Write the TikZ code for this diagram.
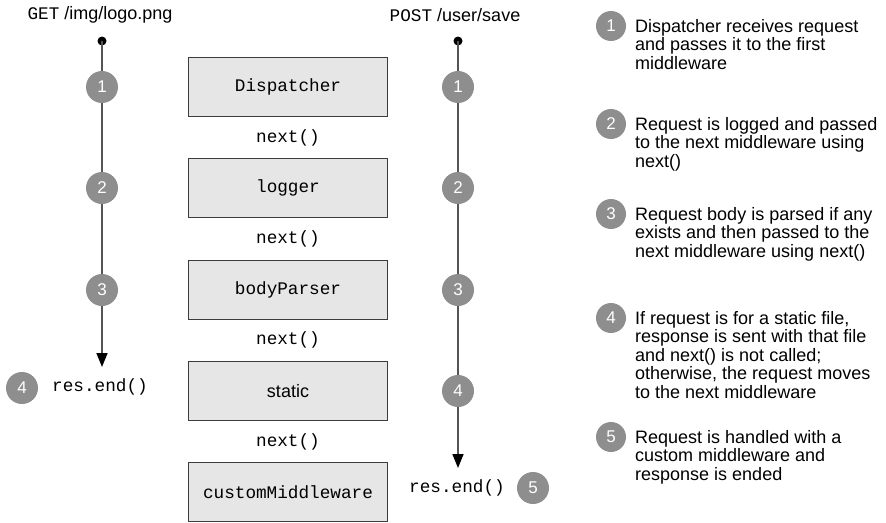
\documentclass[tikz,border=0pt]{standalone}
\usepackage{fontspec}
\setmainfont{Liberation Sans}
\setmonofont{Liberation Mono}
\usetikzlibrary{arrows.meta}
\definecolor{stepgray}{RGB}{142,142,142}
\definecolor{boxfill}{RGB}{230,230,230}
\definecolor{boxline}{RGB}{60,60,60}
\definecolor{flowline}{RGB}{85,85,85}
\begin{document}
\begin{tikzpicture}[x=1pt,y=-1pt,
  mw/.style={draw=boxline, line width=1.3pt, fill=boxfill, minimum width=199pt, minimum height=59pt, inner sep=0pt, font=\fontsize{17.7}{20}\ttfamily},
  mono/.style={font=\fontsize{17.7}{20}\ttfamily, inner sep=0pt},
  num/.style={circle, fill=stepgray, minimum size=32pt, inner sep=0pt, text=white, font=\fontsize{17}{20}\selectfont},
  lnum/.style={num, minimum size=30pt},
  dotstart/.style={circle, fill=black, minimum size=9pt, inner sep=0pt},
  flow/.style={draw=flowline, line width=1.6pt, -{Triangle[width=11pt,length=14pt,color=black,fill=black]}},
  legend/.style={align=left, anchor=north west, inner sep=0pt, font=\fontsize{18}{18.5}\selectfont},
  title/.style={inner sep=0pt, font=\fontsize{18}{20}\selectfont}
]
\useasboundingbox (0,0) rectangle (886,522);

% middleware boxes
\node[mw] (disp) at (288,87) {Dispatcher};
\node[mw] (logger) at (288,188) {logger};
\node[mw] (body) at (288,290) {bodyParser};
\node[mw, font=\fontsize{18}{20}\selectfont] (static) at (288,391) {static};
\node[mw] (custom) at (288,492) {customMiddleware};
\node[mono] (n1) at (288,138) {next()};
\node[mono] (n2) at (288,239) {next()};
\node[mono] (n3) at (288,340) {next()};
\node[mono] (n4) at (288,442) {next()};

% left request
\node[title] (getlbl) at (100,15) {{\fontsize{17.7}{20}\ttfamily GET} /img/logo.png};
\node[dotstart] (dotL) at (102,41) {};
\coordinate (endL) at (102,367);
\draw[flow] (dotL.center) -- (endL);
\node[num] (l1) at (102,87) {1};
\node[num] (l2) at (102,188) {2};
\node[num] (l3) at (102,290) {3};
\node[num] (l4) at (22,388) {4};
\node[mono, anchor=west] (resL) at (52,387) {res.end()};

% right request
\node[title] (postlbl) at (455,15) {{\fontsize{17.7}{20}\ttfamily POST} /user/save};
\node[dotstart] (dotR) at (458,41) {};
\coordinate (endR) at (458,468);
\draw[flow] (dotR.center) -- (endR);
\node[num] (r1) at (458,87) {1};
\node[num] (r2) at (458,188) {2};
\node[num] (r3) at (458,290) {3};
\node[num] (r4) at (458,391) {4};
\node[mono, anchor=west] (resR) at (409,488) {res.end()};
\node[num] (r5) at (533,488) {5};

% legend
\node[lnum] (k1) at (611,26) {1};
\node[legend] (t1) at (635,19) {Dispatcher receives request\\and passes it to the first\\middleware};
\node[lnum] (k2) at (611,124) {2};
\node[legend] (t2) at (635,117) {Request is logged and passed\\to the next middleware using\\next()};
\node[lnum] (k3) at (611,214) {3};
\node[legend] (t3) at (635,207) {Request body is parsed if any\\exists and then passed to the\\next middleware using next()};
\node[lnum] (k4) at (611,318) {4};
\node[legend] (t4) at (635,311) {If request is for a static file,\\response is sent with that file\\and next() is not called;\\otherwise, the request moves\\to the next middleware};
\node[lnum] (k5) at (611,437) {5};
\node[legend] (t5) at (635,430) {Request is handled with a\\custom middleware and\\response is ended};
\end{tikzpicture}
\end{document}
